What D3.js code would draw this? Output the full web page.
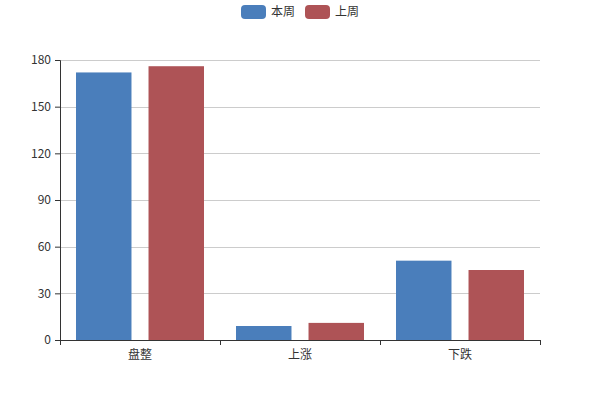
<!DOCTYPE html>
<html>
<head>
<meta charset="utf-8">
<script src="https://cdn.jsdelivr.net/npm/d3@7"></script>
<style>
  body { margin: 0; background: #fff; }
  text { font-family: "Noto Sans CJK SC", "Noto Sans", sans-serif; font-size: 12px; fill: #333; }
</style>
</head>
<body>
<div id="chart"></div>
<script>
'use strict';
// chart data
var categories = ['盘整', '上涨', '下跌'];
var seriesNames = ['本周', '上周'];
var thisWeek = [172, 9, 51];
var lastWeek = [176, 11, 45];
var yTicks = [0, 30, 60, 90, 120, 150, 180];
var colors = ['#4a7ebb', '#ae5356'];

var margin = {top: 60, right: 60, bottom: 60, left: 60},
    width = 600 - margin.left - margin.right,
    height = 400 - margin.top - margin.bottom;

var svg = d3.select('#chart').append('svg')
    .attr('width', 600)
    .attr('height', 400);

var g = svg.append('g')
    .attr('transform', 'translate(' + margin.left + ',' + margin.top + ')');

// scales
var x = d3.scaleBand()
    .domain(categories)
    .range([0, width])
    .paddingInner(0)
    .paddingOuter(0);

var x1 = d3.scaleBand()
    .domain(seriesNames)
    .range([16, x.bandwidth() - 16])
    .paddingInner(0.235);

var y = d3.scaleLinear()
    .domain([0, 180])
    .range([height, 0]);

// grid lines
g.selectAll('.grid')
    .data(yTicks.filter(function(d) { return d > 0; }))
  .enter().append('line')
    .attr('x1', 0)
    .attr('x2', width)
    .attr('y1', function(d) { return Math.round(y(d)) + 0.5; })
    .attr('y2', function(d) { return Math.round(y(d)) + 0.5; })
    .attr('stroke', '#ccc');

// bars
var rows = categories.map(function(c, i) {
  return {cat: c, values: [thisWeek[i], lastWeek[i]]};
});

var groups = g.selectAll('.cat')
    .data(rows)
  .enter().append('g')
    .attr('transform', function(d) { return 'translate(' + x(d.cat) + ',0)'; });

groups.selectAll('rect')
    .data(function(d) { return d.values.map(function(v, j) { return {name: seriesNames[j], value: v, idx: j}; }); })
  .enter().append('rect')
    .attr('x', function(d) { return x1(d.name); })
    .attr('width', x1.bandwidth())
    .attr('y', function(d) { return y(d.value); })
    .attr('height', function(d) { return height - y(d.value); })
    .attr('fill', function(d) { return colors[d.idx]; });

// y axis
var yAxis = g.append('g')
    .call(d3.axisLeft(y).tickValues(yTicks).tickSize(5).tickPadding(4));
yAxis.select('.domain').attr('stroke', '#333');
yAxis.selectAll('.tick line').attr('stroke', '#333');
yAxis.selectAll('text').style('font-size', '12px').attr('fill', '#333');

// x axis
var xAxis = g.append('g')
    .attr('transform', 'translate(0,' + height + ')')
    .call(d3.axisBottom(x).tickSize(0).tickPadding(10).tickSizeOuter(0));
xAxis.select('.domain').attr('stroke', '#333');
xAxis.selectAll('text').style('font-size', '12px').attr('fill', '#333');

// x ticks between categories
var boundaries = [0].concat(categories.map(function(c) { return x(c) + x.bandwidth(); }));
xAxis.selectAll('.bound')
    .data(boundaries)
  .enter().append('line')
    .attr('x1', function(d) { return Math.round(d) + 0.5; })
    .attr('x2', function(d) { return Math.round(d) + 0.5; })
    .attr('y1', 0)
    .attr('y2', 5)
    .attr('stroke', '#333');

// legend
var legend = svg.append('g');
var legendX = [241, 305];
seriesNames.forEach(function(name, i) {
  legend.append('rect')
      .attr('x', legendX[i])
      .attr('y', 5)
      .attr('width', 25)
      .attr('height', 14)
      .attr('rx', 4)
      .attr('fill', colors[i]);
  legend.append('text')
      .attr('x', legendX[i] + 30)
      .attr('y', 12)
      .attr('dy', '0.35em')
      .text(name);
});
</script>
</body>
</html>
